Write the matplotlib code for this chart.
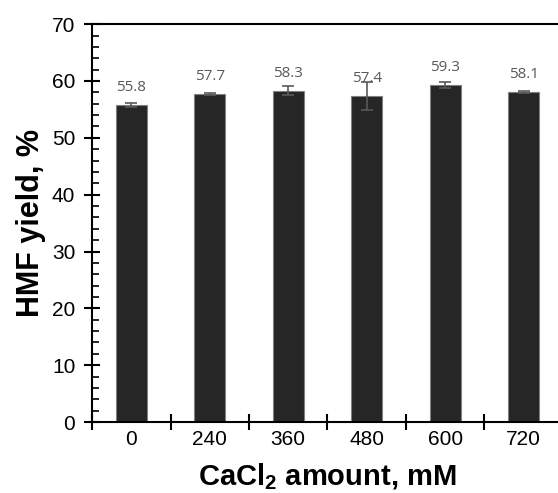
import matplotlib
matplotlib.use("Agg")
import matplotlib.pyplot as plt
import numpy as np
from matplotlib.ticker import MultipleLocator, FixedLocator

plt.rcParams['font.family'] = ['Liberation Sans', 'DejaVu Sans']
plt.rcParams['mathtext.fontset'] = 'custom'
plt.rcParams['mathtext.rm'] = 'Liberation Sans'
plt.rcParams['mathtext.bf'] = 'Liberation Sans:bold'

# data
amounts = ['0', '240', '360', '480', '600', '720']
yield_pct = [55.8, 57.7, 58.3, 57.4, 59.3, 58.1]
yield_err = [0.3, 0.1, 0.8, 2.5, 0.5, 0.2]

fig = plt.figure(figsize=(5.58, 4.93), dpi=100)
ax = fig.add_axes([0.1649, 0.144, 0.844, 0.807])

x = np.arange(len(amounts))
ax.bar(x, yield_pct, width=0.39, color='#262626', edgecolor='#808080', linewidth=0.8,
       yerr=yield_err, error_kw=dict(ecolor='#595959', elinewidth=1.2, capsize=4, capthick=1.2))

for xi, v in zip(x, yield_pct):
    ax.annotate(f'{v:.1f}', (xi, v), xytext=(0, 7), textcoords='offset points',
                ha='center', va='bottom', fontsize=11, color='#595959',
                family=['Open Sans', 'DejaVu Sans'])

ax.set_xlim(-0.5, len(amounts) - 0.5)
ax.set_ylim(0, 70)
ax.set_xticks(x)
ax.set_xticklabels(amounts)
ax.xaxis.set_minor_locator(FixedLocator(np.arange(-0.5, len(amounts), 1.0)))
ax.tick_params(axis='x', which='major', length=0, labelsize=15, pad=6)
ax.tick_params(axis='x', which='minor', direction='inout', length=11, width=1.5)

ax.yaxis.set_major_locator(MultipleLocator(10))
ax.yaxis.set_minor_locator(MultipleLocator(2))
ax.tick_params(axis='y', which='major', direction='inout', length=11, width=1.5,
               labelsize=15, pad=6.5)
ax.tick_params(axis='y', which='minor', direction='in', length=5, width=1.2)

for s in ['left', 'bottom', 'top']:
    ax.spines[s].set_linewidth(1.5)
ax.spines['right'].set_visible(False)

ax.set_ylabel('HMF yield, %', fontsize=22, fontweight='bold', labelpad=4)
ax.set_xlabel(r'CaCl$_{\mathbf{2}}$ amount, mM', fontsize=21, fontweight='bold', labelpad=8.5)

fig.savefig('out.png', dpi=100)
